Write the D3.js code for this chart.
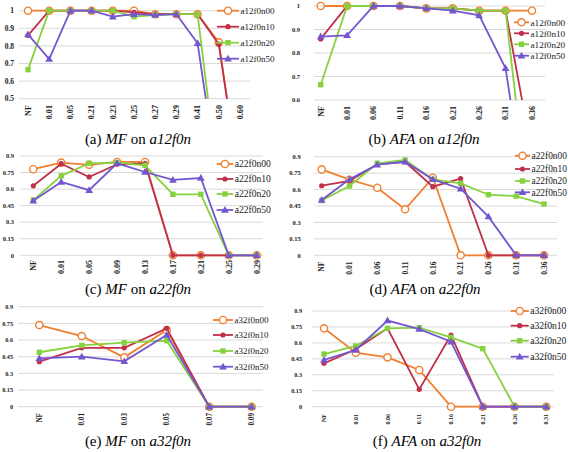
<!DOCTYPE html>
<html><head><meta charset="utf-8">
<script src="https://cdn.jsdelivr.net/npm/d3@7"></script>
<style>body{margin:0;background:#fff}svg{display:block}</style>
</head><body><svg id="c" width="568" height="452"></svg>
<script>
// ---------- data ----------
const seriesColors = ["#F07F2E", "#C0304B", "#86D13E", "#7357CF"];
const seriesShapes = ["circle", "dot", "square", "triangle"];

const catsA = ["NF","0.01","0.05","0.21","0.23","0.25","0.27","0.29","0.41","0.50","0.60"];
const namesA = ["a12f0n00","a12f0n10","a12f0n20","a12f0n50"];
const a_n00 = [1,1,1,1,1,1,0.98,0.98,0.98,0.82,0];
const a_n10 = [0.86,1,1,1,1,0.99,0.98,0.98,0.98,0.81,0];
const a_n20 = [0.665,1,1,1,1,0.966,0.975,0.98,0.98,0,0];
const a_n50 = [0.865,0.725,1,1,0.966,0.98,0.975,0.98,0.815,0,0];
const ticksA = [0.5,0.6,0.7,0.8,0.9,1];

const catsB = ["NF","0.01","0.06","0.11","0.16","0.21","0.26","0.31","0.36"];
const namesB = ["a12f0n00","a12f0n10","a12f0n20","a12f0n50"];
const b_n00 = [1,1,1,1,0.99,0.99,0.98,0.98,0.98];
const b_n10 = [0.86,1,1,1,0.99,0.99,0.98,0.98,0.37];
const b_n20 = [0.665,1,1,1,0.99,0.99,0.98,0.98,0];
const b_n50 = [0.87,0.875,1,1,0.99,0.98,0.96,0.735,0];
const ticksB = [0.6,0.7,0.8,0.9,1];

const catsC = ["NF","0.01","0.05","0.09","0.13","0.17","0.21","0.25","0.29"];
const namesC = ["a22f0n00","a22f0n10","a22f0n20","a22f0n50"];
const c_n00 = [0.78,0.84,0.82,0.846,0.846,0,0,0,0];
const c_n10 = [0.63,0.83,0.71,0.825,0.834,0,0,0,0];
const c_n20 = [0.50,0.72,0.834,0.84,0.816,0.553,0.553,0,0];
const c_n50 = [0.495,0.665,0.59,0.834,0.755,0.683,0.70,0,0];
const ticksC = [0,0.15,0.3,0.45,0.6,0.75,0.9];

const catsD = ["NF","0.01","0.06","0.11","0.16","0.21","0.26","0.31","0.36"];
const namesD = ["a22f0n00","a22f0n10","a22f0n20","a22f0n50"];
const d_n00 = [0.784,0.69,0.617,0.42,0.708,0,0,0,0];
const d_n10 = [0.635,0.68,0.83,0.854,0.626,0.70,0,0,0];
const d_n20 = [0.50,0.632,0.84,0.87,0.693,0.657,0.553,0.54,0.468];
const d_n50 = [0.505,0.693,0.827,0.854,0.693,0.608,0.353,0,0];
const ticksD = [0,0.15,0.3,0.45,0.6,0.75,0.9];

const catsE = ["NF","0.01","0.03","0.05","0.07","0.09"];
const namesE = ["a32f0n00","a32f0n10","a32f0n20","a32f0n50"];
const e_n00 = [0.735,0.636,0.444,0.69,0,0];
const e_n10 = [0.405,0.53,0.53,0.705,0,0];
const e_n20 = [0.49,0.552,0.576,0.594,0,0];
const e_n50 = [0.435,0.45,0.408,0.645,0,0];
const ticksE = [0,0.15,0.3,0.45,0.6,0.75,0.9];

const catsF = ["NF","0.01","0.06","0.11","0.16","0.21","0.26","0.31"];
const namesF = ["a32f0n00","a32f0n10","a32f0n20","a32f0n50"];
const f_n00 = [0.737,0.508,0.464,0.345,0,0,0,0];
const f_n10 = [0.408,0.54,0.737,0.163,0.674,0,0,0];
const f_n20 = [0.495,0.571,0.737,0.743,0.652,0.546,0,0];
const f_n50 = [0.44,0.533,0.81,0.73,0.611,0,0,0];
const ticksF = [0,0.15,0.3,0.45,0.6,0.75,0.9];

const captions = [
  ["(a) ","MF"," on ","a12f0n"],
  ["(b) ","AFA"," on ","a12f0n"],
  ["(c) ","MF"," on ","a22f0n"],
  ["(d) ","AFA"," on ","a22f0n"],
  ["(e) ","MF"," on ","a32f0n"],
  ["(f) ","AFA"," on ","a32f0n"]
];

// ---------- layout ----------
const panels = [
  {cats:catsA, names:namesA, series:[a_n00,a_n10,a_n20,a_n50], ticks:ticksA,
   x0:28, x1:240, dom:[0.5,1], rng:[98.7,10.7], gridL:19, gridR:250, labR:14, tf:7.5,
   xlTop:105, xlf:8.2, legX:217, legW:22, legRows:[10.7,26.7,42.7,58.7], legF:9,
   capX:138, capY:144, clip:true},
  {cats:catsB, names:namesB, series:[b_n00,b_n10,b_n20,b_n50], ticks:ticksB,
   x0:320.7, x1:532, dom:[0.6,1], rng:[100,6], gridL:314, gridR:545, labR:300, tf:6.5,
   xlTop:106, xlf:8, legX:514, legW:15, legRows:[22.3,33.3,44.3,55.7], legF:9.2,
   capX:424, capY:144, clip:true},
  {cats:catsC, names:namesC, series:[c_n00,c_n10,c_n20,c_n50], ticks:ticksC,
   x0:33.3, x1:256.7, dom:[0,0.9], rng:[255.3,156], gridL:20, gridR:263, labR:14, tf:6.5,
   xlTop:260, xlf:8, legX:216.7, legW:16.5, legRows:[164,179,194,210], legF:9.6,
   capX:138, capY:294},
  {cats:catsD, names:namesD, series:[d_n00,d_n10,d_n20,d_n50], ticks:ticksD,
   x0:321.7, x1:544, dom:[0,0.9], rng:[255.3,156.7], gridL:314, gridR:557, labR:300.7, tf:6.5,
   xlTop:261.5, xlf:7.6, legX:515, legW:15, legRows:[155.7,169,181,192.3], legF:9.4,
   capX:425, capY:294},
  {cats:catsE, names:namesE, series:[e_n00,e_n10,e_n20,e_n50], ticks:ticksE,
   x0:39.3, x1:251.7, dom:[0,0.9], rng:[406.7,306.7], gridL:18, gridR:263, labR:13, tf:6.2,
   xlTop:413, xlf:7.2, legX:213, legW:20, legRows:[320,335,351,366.7], legF:9,
   capX:138, capY:446},
  {cats:catsF, names:namesF, series:[f_n00,f_n10,f_n20,f_n50], ticks:ticksF,
   x0:324, x1:546.3, dom:[0,0.9], rng:[406.7,311], gridL:312, gridR:554, labR:302, tf:6.2,
   xlTop:414, xlf:6, legX:510.7, legW:18, legRows:[311,325.7,340.7,356.7], legF:9.6,
   capX:427, capY:446}
];

const svg = d3.select("#c");
const serif = "'Liberation Serif','Times New Roman',serif";

function marker(g, shape, color, x, y) {
  if (shape === "circle") {
    g.append("circle").attr("cx", x).attr("cy", y).attr("r", 3.6)
      .attr("fill", "#fff").attr("stroke", color).attr("stroke-width", 1.4);
  } else if (shape === "dot") {
    g.append("circle").attr("cx", x).attr("cy", y).attr("r", 2.6).attr("fill", color);
  } else if (shape === "square") {
    g.append("rect").attr("x", x - 2.7).attr("y", y - 2.7).attr("width", 5.4).attr("height", 5.4).attr("fill", color);
  } else {
    g.append("path").attr("d", d3.symbol(d3.symbolTriangle, 26)()).attr("transform", `translate(${x},${y + 0.5})`).attr("fill", color);
  }
}

panels.forEach((p, pi) => {
  const g = svg.append("g");
  const x = d3.scalePoint().domain(p.cats).range([p.x0, p.x1]);
  const y = d3.scaleLinear().domain(p.dom).range(p.rng);

  // grid
  g.selectAll("line.grid").data(p.ticks).enter().append("line")
    .attr("x1", p.gridL).attr("x2", p.gridR)
    .attr("y1", d => y(d)).attr("y2", d => y(d))
    .attr("stroke", "#d9d9d9").attr("stroke-width", 1);

  // y labels
  g.selectAll("text.yl").data(p.ticks).enter().append("text")
    .attr("x", p.labR).attr("y", d => y(d)).attr("dy", "0.35em")
    .attr("text-anchor", "end").attr("font-family", serif).attr("font-weight", "bold")
    .attr("font-size", p.tf).attr("fill", "#222")
    .text(d => d3.format("")(d));

  // x labels
  g.selectAll("text.xl").data(p.cats).enter().append("text")
    .attr("transform", d => `translate(${x(d)},${p.xlTop}) rotate(-90)`)
    .attr("dy", "0.35em").attr("text-anchor", "end")
    .attr("font-family", serif).attr("font-weight", "bold")
    .attr("font-size", p.xlf).attr("fill", "#222").text(d => d);

  // clip
  const clipId = "clip" + pi;
  svg.append("clipPath").attr("id", clipId).append("rect")
    .attr("x", 0).attr("y", p.rng[1] - 8).attr("width", 568)
    .attr("height", p.rng[0] - p.rng[1] + 8);
  const plot = g.append("g");
  if (p.clip) plot.attr("clip-path", `url(#${clipId})`);

  const line = d3.line().x((d, i) => x(p.cats[i])).y(d => y(d));
  p.series.forEach((s, si) => {
    const sg = plot.append("g");
    sg.append("path").attr("d", line(s)).attr("fill", "none")
      .attr("stroke", seriesColors[si]).attr("stroke-width", 1.8);
    s.forEach((v, i) => marker(sg, seriesShapes[si], seriesColors[si], x(p.cats[i]), y(v)));
  });

  // legend
  p.names.forEach((n, si) => {
    const ly = p.legRows[si];
    const lg = g.append("g");
    lg.append("line").attr("x1", p.legX).attr("x2", p.legX + p.legW)
      .attr("y1", ly).attr("y2", ly).attr("stroke", seriesColors[si]).attr("stroke-width", 1.8);
    marker(lg, seriesShapes[si], seriesColors[si], p.legX + p.legW / 2, ly);
    lg.append("text").attr("x", p.legX + p.legW + 1.5).attr("y", ly).attr("dy", "0.35em")
      .attr("font-family", serif).attr("font-size", p.legF).attr("fill", "#222").text(n);
  });

  // caption
  const cap = captions[pi];
  const t = g.append("text").attr("x", p.capX).attr("y", p.capY)
    .attr("text-anchor", "middle").attr("font-family", serif).attr("font-size", 15).attr("fill", "#000");
  cap.forEach((part, k) => {
    t.append("tspan").attr("font-style", k % 2 === 1 ? "italic" : "normal").text(part);
  });
});
</script>
</body></html>
